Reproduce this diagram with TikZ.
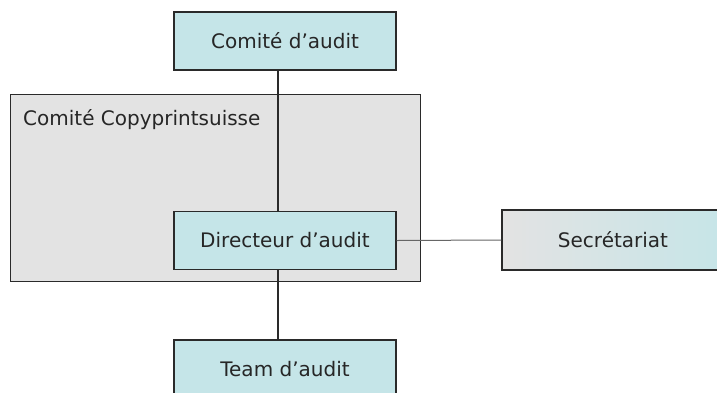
\documentclass[tikz,border=0pt]{standalone}
\usepackage{fontspec}
\setmainfont{DejaVu Sans}
\definecolor{boxblue}{HTML}{C5E5E8}
\definecolor{boxgray}{HTML}{E3E3E3}
\definecolor{edge}{HTML}{2A2A2A}
\begin{document}
\begin{tikzpicture}[x=1pt,y=-1pt,
  txt/.style={font=\fontsize{20}{23}\selectfont,text=black!85},
  unit/.style={txt,draw=edge,line width=1.3pt,fill=boxblue,minimum width=222pt,minimum height=58pt,inner sep=0pt},
  link/.style={draw=edge,line width=1.3pt}]
\useasboundingbox (0,0) rectangle (717,392);
\clip (0,0) rectangle (717,392);
\node[draw=edge,line width=1pt,fill=boxgray,minimum width=410pt,minimum height=187pt,inner sep=0pt] (outer) at (215,187.5) {};
\node[txt,anchor=west,inner sep=0pt] (outerlabel) at (23,120) {Comité Copyprintsuisse};
\node[unit] (comite) at (285,41) {Comité d’audit};
\node[unit] (dir) at (285,240.5) {Directeur d’audit};
\node[unit] (team) at (285,369) {Team d’audit};
\node[txt,draw=edge,line width=1.3pt,left color=boxgray,right color=boxblue,minimum width=230pt,minimum height=60pt,inner sep=0pt] (sec) at (617,240) {\hspace*{-8pt}Secrétariat};
\draw[link] (278,70) -- (278,211);
\draw[link] (278,270) -- (278,340);
\draw[draw=black!60,line width=1pt] (dir.east) -- (sec.west);
\end{tikzpicture}
\end{document}
